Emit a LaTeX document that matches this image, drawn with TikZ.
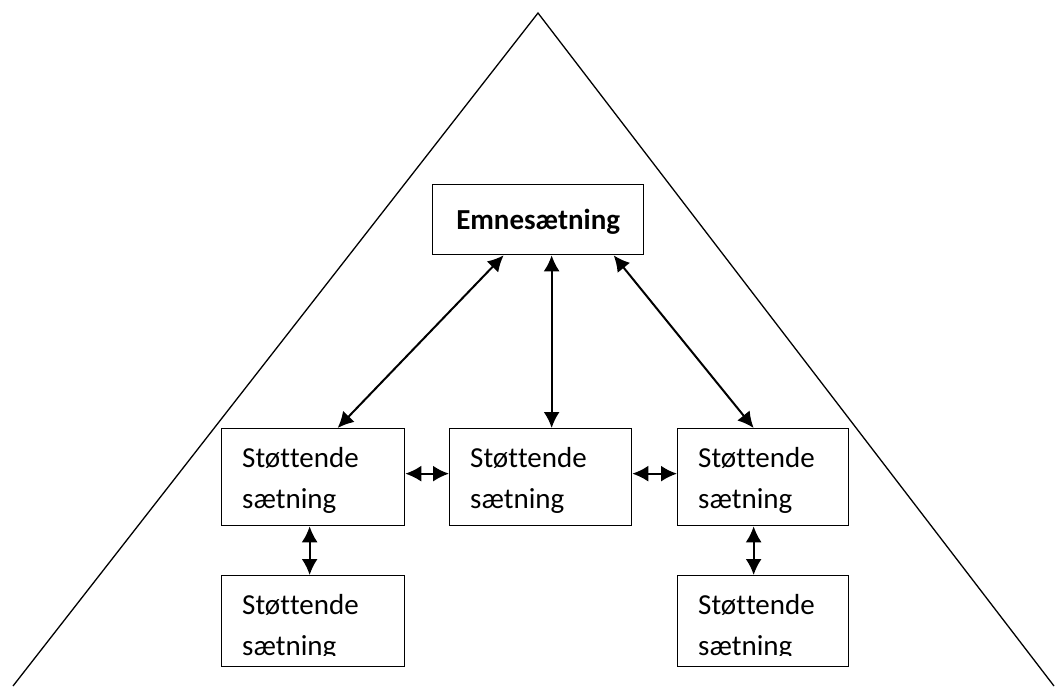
\documentclass[tikz,border=0pt]{standalone}
\usepackage{fontspec}
\setmainfont[RawFeature={-liga;-calt;-clig;-dlig}]{Carlito}
\usetikzlibrary{arrows.meta}
\newcommand{\stt}{Støt\kern0pt tende}
\begin{document}
\begin{tikzpicture}[x=1pt,y=-1pt,
  box/.style={draw,line width=1.3pt,inner sep=0pt,anchor=north west,minimum width=183pt,minimum height=97pt},
  txt/.style={anchor=base west,inner sep=0pt,font=\fontsize{29}{41}\selectfont},
  link/.style={{Latex[length=16pt,width=16pt]}-{Latex[length=16pt,width=16pt]},line width=2pt}]
\useasboundingbox (0,0) rectangle (1055,686);
% triangle
\coordinate (apex) at (538,13);
\coordinate (bl) at (13,686);
\coordinate (br) at (1054,686);
\draw[line width=1.3pt] (bl) -- (apex) -- (br);
% top box
\node[box,minimum width=211pt,minimum height=70pt,text height=19pt,text depth=0pt,
      font=\fontsize{29}{35}\selectfont\bfseries] (E) at (432,184) {Emnesætning};
% middle row
\node[box] (L1) at (221,428) {};
\node[box,minimum width=182pt] (M) at (449,428) {};
\node[box,minimum width=171pt] (R1) at (677,428) {};
\node[txt] (L1a) at (242,467) {\stt};
\node[txt] (L1b) at (242,508) {sætning};
\node[txt] (Ma) at (470,467) {\stt};
\node[txt] (Mb) at (470,508) {sætning};
\node[txt] (R1a) at (698,467) {\stt};
\node[txt] (R1b) at (698,508) {sætning};
% bottom row
\node[box,minimum height=91pt] (L2) at (221,575) {};
\node[box,minimum width=171pt,minimum height=91pt] (R2) at (677,575) {};
\begin{scope}
\clip (221,575) rectangle (404,655);
\node[txt] (L2a) at (242,614) {\stt};
\node[txt] (L2b) at (242,655) {sætning};
\end{scope}
\begin{scope}
\clip (677,575) rectangle (848,655);
\node[txt] (R2a) at (698,614) {\stt};
\node[txt] (R2b) at (698,655) {sætning};
\end{scope}
% connectors
\draw[link] ([xshift=-34.5pt]E.south) -- ([xshift=24.5pt]L1.north);
\draw[link] ([xshift=13.5pt]E.south) -- ([xshift=11pt]M.north);
\draw[link] ([xshift=75.5pt]E.south) -- ([xshift=-9.5pt]R1.north);
\draw[link] ([yshift=3.5pt]L1.east) -- ([yshift=3.5pt]M.west);
\draw[link] ([yshift=3.5pt]M.east) -- ([yshift=3.5pt]R1.west);
\draw[link] ([xshift=-3.5pt]L1.south) -- ([xshift=-3.5pt]L2.north);
\draw[link] ([xshift=-9.5pt]R1.south) -- ([xshift=-9.5pt]R2.north);
\end{tikzpicture}
\end{document}
